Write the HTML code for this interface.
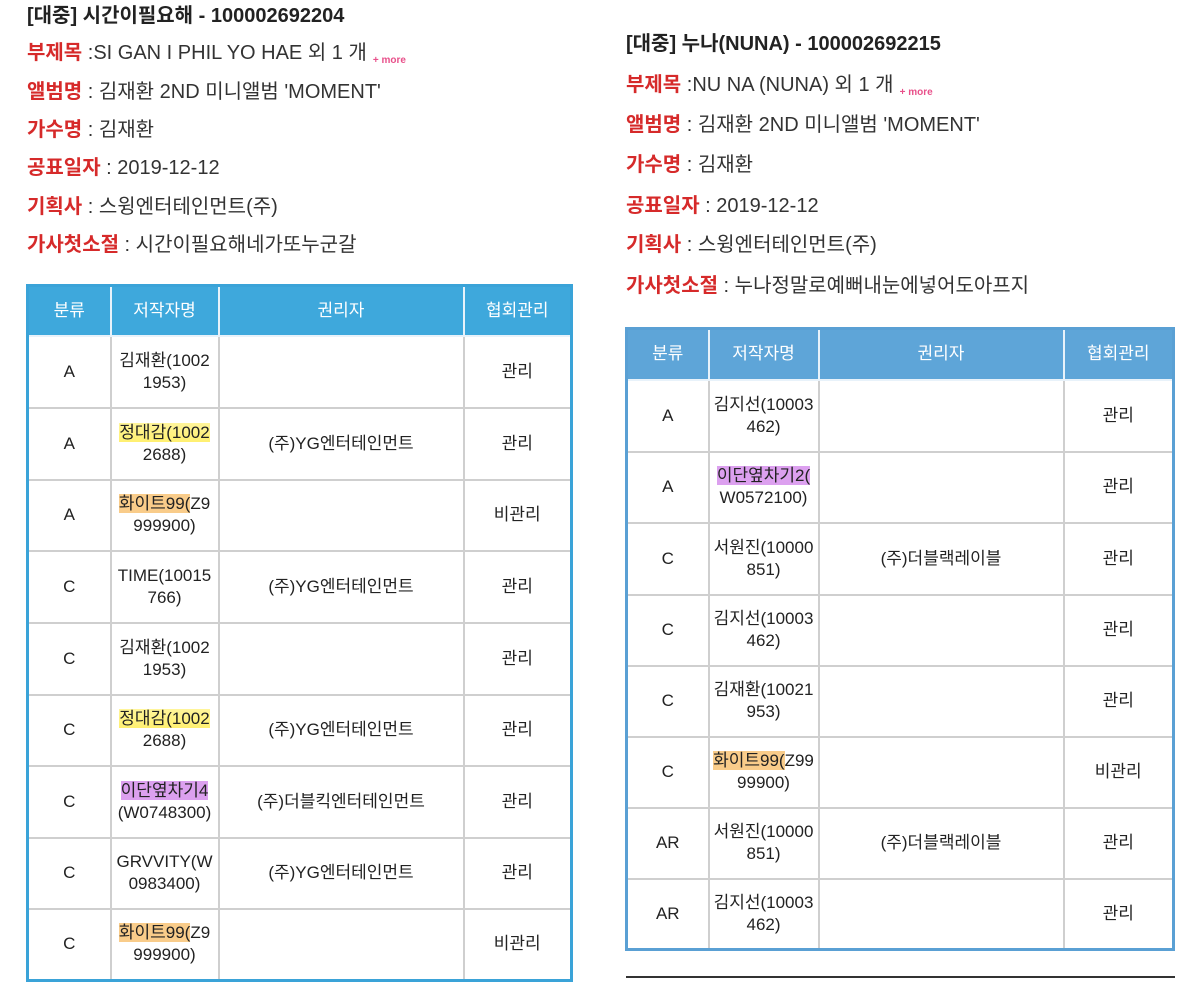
<!DOCTYPE html>
<html><head><meta charset="utf-8"><style>
body{margin:0;width:1200px;height:981px;background:#fff;position:relative;overflow:hidden;font-family:"Liberation Sans","Noto Sans CJK KR",sans-serif;color:#333}
.t{position:absolute;font-size:20px;white-space:nowrap;line-height:24px}
.h{font-weight:bold;color:#222}
.r{color:#d62a2a;font-weight:bold}
.more{color:#e8508a;font-size:10px;font-weight:bold;vertical-align:-4px;margin-left:6px}
table{position:absolute;border-collapse:collapse;table-layout:fixed;font-size:17px;color:#222}
td,th{border:2px solid #cfcfcf;text-align:center;padding:0;line-height:22px}
th{color:#fff;font-weight:normal;border-color:#e8f2fa}
.L{border:3px solid #3aa3d8}
.L th{background:#3ea8dc}
.R{border:3px solid #5aa0d4}
.R th{background:#5ea5d8}
.y{background:linear-gradient(#fff59a,#fff070)}
.o{background:#f9cc8a}
.p{background:#dca0ef}
</style></head><body>
<div class="t h" style="left:27px;top:4px">[대중] 시간이필요해 - 100002692204</div>
<div class="t" style="left:27px;top:41px"><span class="r">부제목</span> :SI GAN I PHIL YO HAE 외 1 개<span class="more">+ more</span></div>
<div class="t" style="left:27px;top:80px"><span class="r">앨범명</span> : 김재환 2ND 미니앨범 'MOMENT'</div>
<div class="t" style="left:27px;top:118px"><span class="r">가수명</span> : 김재환</div>
<div class="t" style="left:27px;top:156px"><span class="r">공표일자</span> : 2019-12-12</div>
<div class="t" style="left:27px;top:195px"><span class="r">기획사</span> : 스윙엔터테인먼트(주)</div>
<div class="t" style="left:27px;top:233px"><span class="r">가사첫소절</span> : 시간이필요해네가또누군갈</div>

<table class="L" style="left:26px;top:284px;width:544px">
<colgroup><col style="width:83px"><col style="width:108px"><col style="width:245px"><col style="width:108px"></colgroup>
<tr style="height:50px"><th>분류</th><th>저작자명</th><th>권리자</th><th>협회관리</th></tr>
<tr style="height:72px"><td>A</td><td>김재환(1002<br>1953)</td><td></td><td>관리</td></tr>
<tr style="height:72px"><td>A</td><td><span class="y">정대감(1002</span><br>2688)</td><td>(주)YG엔터테인먼트</td><td>관리</td></tr>
<tr style="height:71px"><td>A</td><td><span class="o">화이트99(</span>Z9<br>999900)</td><td></td><td>비관리</td></tr>
<tr style="height:72px"><td>C</td><td>TIME(10015<br>766)</td><td>(주)YG엔터테인먼트</td><td>관리</td></tr>
<tr style="height:72px"><td>C</td><td>김재환(1002<br>1953)</td><td></td><td>관리</td></tr>
<tr style="height:71px"><td>C</td><td><span class="y">정대감(1002</span><br>2688)</td><td>(주)YG엔터테인먼트</td><td>관리</td></tr>
<tr style="height:72px"><td>C</td><td><span class="p">이단옆차기4</span><br>(W0748300)</td><td>(주)더블킥엔터테인먼트</td><td>관리</td></tr>
<tr style="height:71px"><td>C</td><td>GRVVITY(W<br>0983400)</td><td>(주)YG엔터테인먼트</td><td>관리</td></tr>
<tr style="height:72px"><td>C</td><td><span class="o">화이트99(</span>Z9<br>999900)</td><td></td><td>비관리</td></tr>
</table>

<div class="t h" style="left:626px;top:32px">[대중] 누나(NUNA) - 100002692215</div>
<div class="t" style="left:626px;top:73px"><span class="r">부제목</span> :NU NA (NUNA) 외 1 개<span class="more">+ more</span></div>
<div class="t" style="left:626px;top:113px"><span class="r">앨범명</span> : 김재환 2ND 미니앨범 'MOMENT'</div>
<div class="t" style="left:626px;top:153px"><span class="r">가수명</span> : 김재환</div>
<div class="t" style="left:626px;top:194px"><span class="r">공표일자</span> : 2019-12-12</div>
<div class="t" style="left:626px;top:233px"><span class="r">기획사</span> : 스윙엔터테인먼트(주)</div>
<div class="t" style="left:626px;top:274px"><span class="r">가사첫소절</span> : 누나정말로예뻐내눈에넣어도아프지</div>

<table class="R" style="left:625px;top:327px;width:547px">
<colgroup><col style="width:82px"><col style="width:110px"><col style="width:245px"><col style="width:110px"></colgroup>
<tr style="height:51px"><th>분류</th><th>저작자명</th><th>권리자</th><th>협회관리</th></tr>
<tr style="height:72px"><td>A</td><td>김지선(10003<br>462)</td><td></td><td>관리</td></tr>
<tr style="height:71px"><td>A</td><td><span class="p">이단옆차기2(</span><br>W0572100)</td><td></td><td>관리</td></tr>
<tr style="height:72px"><td>C</td><td>서원진(10000<br>851)</td><td>(주)더블랙레이블</td><td>관리</td></tr>
<tr style="height:71px"><td>C</td><td>김지선(10003<br>462)</td><td></td><td>관리</td></tr>
<tr style="height:71px"><td>C</td><td>김재환(10021<br>953)</td><td></td><td>관리</td></tr>
<tr style="height:71px"><td>C</td><td><span class="o">화이트99(</span>Z99<br>99900)</td><td></td><td>비관리</td></tr>
<tr style="height:71px"><td>AR</td><td>서원진(10000<br>851)</td><td>(주)더블랙레이블</td><td>관리</td></tr>
<tr style="height:71px"><td>AR</td><td>김지선(10003<br>462)</td><td></td><td>관리</td></tr>
</table>
<div style="position:absolute;left:626px;top:976px;width:549px;height:2px;background:#333"></div>
</body></html>
